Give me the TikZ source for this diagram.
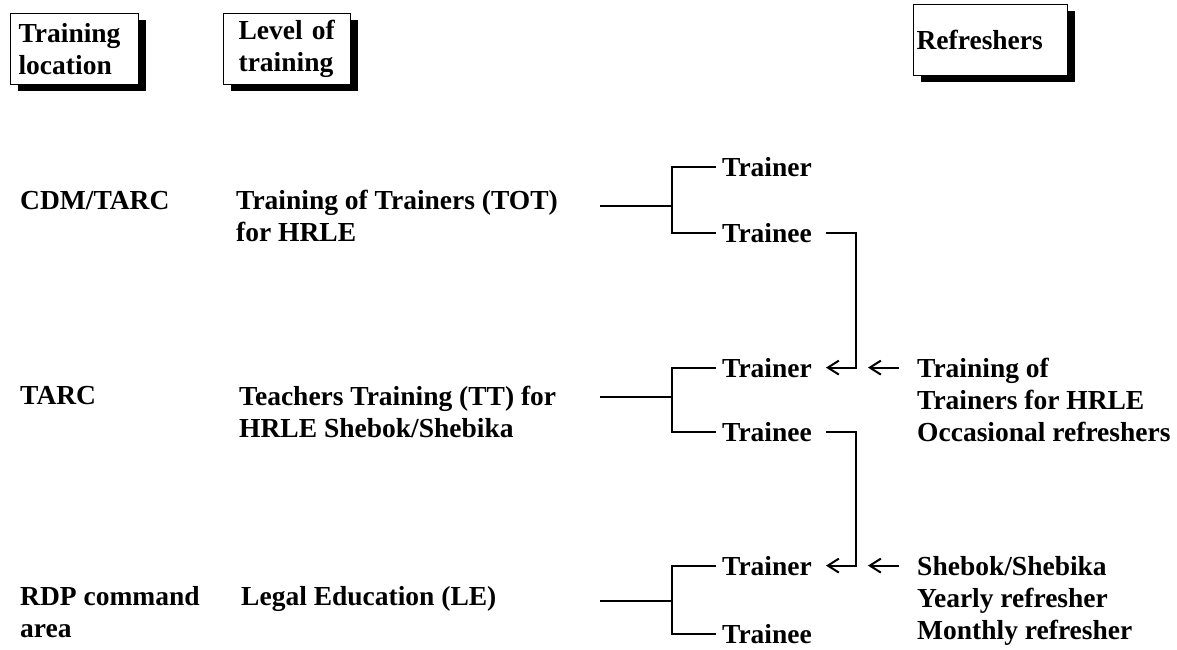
\documentclass[tikz,border=0pt]{standalone}
\usepackage{fontspec}
\setmainfont{Liberation Serif}
\usetikzlibrary{arrows.meta,shadows}
\begin{document}
\begin{tikzpicture}[x=1pt,y=-1pt,
  txt/.style={inner sep=0pt, anchor=base west, align=left,
    font=\fontsize{27.5}{32}\selectfont\bfseries},
  hdr/.style={draw, line width=1.2pt, fill=white, anchor=north west, align=left,
    font=\fontsize{27.5}{32}\selectfont\bfseries, minimum height=71pt, inner ysep=0pt,
    drop shadow={shadow xshift=7pt, shadow yshift=-6pt, fill=black, opacity=1}},
  conn/.style={line width=1.8pt},
  arr/.style={conn, -{Straight Barb[length=11pt,width=14pt,line width=2pt]}}]
\useasboundingbox (0,0) rectangle (1177,649);
% headers
\node[hdr, inner xsep=8pt, text width=112pt] (hloc) at (10,13) {Training\\location};
\node[hdr, inner xsep=15pt, text width=97pt] (hlev) at (223,13) {Level\ of\\training};
\node[hdr, inner xsep=3pt, text width=148pt] (href) at (913,4) {Refreshers};
% location column (base anchor = last line)
\node[txt] (loc1) at (20,209) {CDM/TARC};
\node[txt] (loc2) at (20,404) {TARC};
\node[txt] (loc3) at (20,637) {RDP command\\area};
% level column
\node[txt] (lev1) at (236,241) {Training of Trainers (TOT)\\for HRLE};
\node[txt] (lev2) at (239,437) {Teachers Training (TT) for\\HRLE Shebok/Shebika};
\node[txt] (lev3) at (241,605) {Legal Education (LE)};
% trainer / trainee
\node[txt] (tr1) at (722,176) {Trainer};
\node[txt] (te1) at (722,242) {Trainee};
\node[txt] (tr2) at (722,377) {Trainer};
\node[txt] (te2) at (722,441) {Trainee};
\node[txt] (tr3) at (722,575) {Trainer};
\node[txt] (te3) at (722,643) {Trainee};
% refreshers
\node[txt] (ref2) at (917,441) {Training of\\Trainers for HRLE\\Occasional refreshers};
\node[txt] (ref3) at (917,639) {Shebok/Shebika\\Yearly refresher\\Monthly refresher};
% junctions
\coordinate (s1) at (600,206); \coordinate (j1) at (672,206);
\coordinate (s2) at (600,397); \coordinate (j2) at (672,397);
\coordinate (s3) at (600,601); \coordinate (j3) at (672,601);
\coordinate (v1) at (856,0); \coordinate (v2) at (856,0);
% brackets
\draw[conn] (s1) -- (j1);
\draw[conn] ([xshift=-6pt]tr1.west) -- (tr1.west -| j1) -- (te1.west -| j1) -- ([xshift=-6pt]te1.west);
\draw[conn] (s2) -- (j2);
\draw[conn] ([xshift=-6pt]tr2.west) -- (tr2.west -| j2) -- (te2.west -| j2) -- ([xshift=-6pt]te2.west);
\draw[conn] (s3) -- (j3);
\draw[conn] ([xshift=-6pt]tr3.west) -- (tr3.west -| j3) -- (te3.west -| j3) -- ([xshift=-6pt]te3.west);
% trainee -> next trainer
\draw[arr] ([xshift=14pt]te1.east) -- (te1.east -| v1) -- (tr2.east -| v1) -- ([xshift=14pt]tr2.east);
\draw[arr] ([xshift=14pt]te2.east) -- (te2.east -| v2) -- (tr3.east -| v2) -- ([xshift=14pt]tr3.east);
% refresher arrows
\draw[arr] ([xshift=-18pt]ref2.west |- tr2.east) -- ([xshift=-49pt]ref2.west |- tr2.east);
\draw[arr] ([xshift=-18pt]ref3.west |- tr3.east) -- ([xshift=-49pt]ref3.west |- tr3.east);
\end{tikzpicture}
\end{document}
